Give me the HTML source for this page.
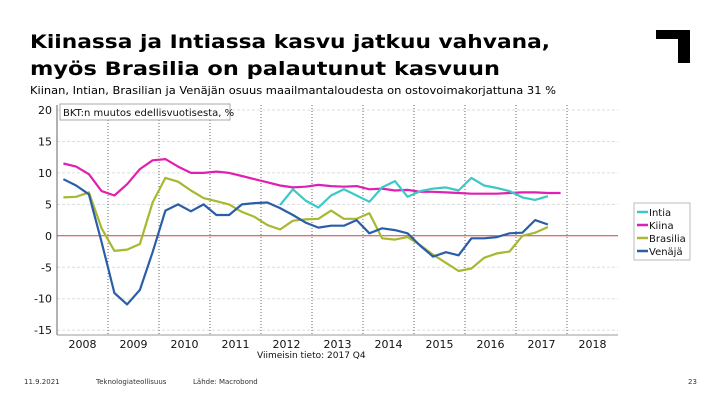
<!DOCTYPE html>
<html><head><meta charset="utf-8"><style>
body{margin:0;background:#fff;}
svg{display:block;font-family:"DejaVu Sans","Liberation Sans",sans-serif;}
</style></head><body>
<svg id="c" width="720" height="405" viewBox="0 0 720 405" xmlns="http://www.w3.org/2000/svg">
<text x="30" y="48" font-size="19" font-weight="bold" textLength="520" lengthAdjust="spacingAndGlyphs">Kiinassa ja Intiassa kasvu jatkuu vahvana,</text>
<text x="30" y="75" font-size="19" font-weight="bold" textLength="470" lengthAdjust="spacingAndGlyphs">myös Brasilia on palautunut kasvuun</text>
<text x="30" y="94" font-size="11" textLength="526" lengthAdjust="spacingAndGlyphs">Kiinan, Intian, Brasilian ja Venäjän osuus maailmantaloudesta on ostovoimakorjattuna 31 %</text>
<g><rect x="656" y="30" width="34" height="9" fill="#000"/><rect x="678" y="30" width="12" height="33" fill="#000"/></g>
<g id="plot"></g>
<g font-size="7" fill="#333">
<text x="24" y="384">11.9.2021</text>
<text x="96" y="384">Teknologiateollisuus</text>
<text x="193" y="384">Lähde: Macrobond</text>
<text x="688" y="384">23</text>
</g>
</svg>
<script>
const yTicks=[20,15,10,5,0,-5,-10,-15];
const years=[2008,2009,2010,2011,2012,2013,2014,2015,2016,2017,2018];
const china=[11.5,11.0,9.8,7.1, 6.4,8.2,10.6,12.0, 12.2,11.0,10.0,10.0, 10.2,10.0,9.5,9.0, 8.5,8.0,7.7,7.8, 8.1,7.9,7.8,7.9, 7.4,7.5,7.2,7.3, 7.0,7.0,6.9,6.8, 6.7,6.7,6.7,6.8, 6.9,6.9,6.8,6.8];
const russia=[9.0,8.0,6.6,-1.0, -9.1,-10.9,-8.6,-2.6, 4.0,5.0,3.9,5.0, 3.3,3.3,5.0,5.2, 5.3,4.4,3.3,2.1, 1.3,1.6,1.6,2.5, 0.4,1.2,0.9,0.4, -1.6,-3.3,-2.6,-3.1, -0.4,-0.4,-0.2,0.4, 0.5,2.5,1.8];
const brazil=[6.1,6.2,6.9,1.2, -2.4,-2.2,-1.3,5.3, 9.2,8.6,7.2,6.0, 5.5,5.0,3.8,3.0, 1.7,1.0,2.4,2.6, 2.7,4.0,2.7,2.7, 3.6,-0.4,-0.6,-0.2, -1.5,-3.0,-4.3,-5.6, -5.2,-3.5,-2.8,-2.5, 0.0,0.5,1.4];
const india=[null,4.9,7.4,5.6, 4.5,6.4,7.4,6.4, 5.4,7.7,8.7,6.2, 7.1,7.5,7.7,7.2, 9.2,8.0,7.6,7.1, 6.1,5.7,6.3];
const indiaStart=2012;
const seriesNames=["Intia","Kiina","Brasilia","Venäjä"];
const colors=["#3cc8c8","#e020b0","#a8b830","#2a5ea8"];
const NS="http://www.w3.org/2000/svg";
const g=document.getElementById('plot');
const L=57,R=618,T=105,B=335;
const xs=t=>L+(t-2008)*51;
const ys=v=>235.8-v*6.29;
function mk(tag,a,parent){const e=document.createElementNS(NS,tag);for(const k in a)e.setAttribute(k,a[k]);(parent||g).appendChild(e);return e;}
mk('rect',{x:L,y:T,width:R-L,height:B-T,fill:'#fff'});
yTicks.forEach(v=>{
 if(v!==0){const ln=mk('line',{x1:L,x2:R,y1:ys(v),y2:ys(v),stroke:'#ddd','stroke-width':1,'stroke-dasharray':'3,2'});
 }
 const t=mk('text',{x:52,y:ys(v)+4,'font-size':11,'text-anchor':'end',fill:'#111'});t.textContent=v;
 
});
years.forEach(y=>{
 if(y>2008){const ln=mk('line',{x1:xs(y),x2:xs(y),y1:T,y2:B,stroke:'#666','stroke-width':1,'stroke-dasharray':'1,2'});
 }
 const t=mk('text',{x:xs(y+0.5),y:348,'font-size':11,'text-anchor':'middle',fill:'#111'});t.textContent=y;
 
});
const ax=mk('line',{x1:L,x2:L,y1:T,y2:B,stroke:'#666'});
const bx=mk('line',{x1:L,x2:R,y1:B,y2:B,stroke:'#999'});
const z=mk('line',{x1:L,x2:R,y1:ys(0),y2:ys(0),stroke:'#d04040','stroke-width':1});
const lb=mk('rect',{x:60,y:104,width:170,height:16,fill:'#fff',stroke:'#aaa'});
const lt=mk('text',{x:63,y:116,'font-size':10,fill:'#111'});lt.textContent='BKT:n muutos edellisvuotisesta, %';

const nt=mk('text',{x:257,y:358,'font-size':9,fill:'#111'});nt.textContent='Viimeisin tieto: 2017 Q4';

function line(data,start,col,name){
 let d='';data.forEach((v,i)=>{if(v===null)return;const t=start+(i+0.5)/4;d+=(d?'L':'M')+xs(t).toFixed(1)+','+ys(v).toFixed(1);});
 const p=mk('path',{d:d,fill:'none',stroke:col,'stroke-width':2.2,'stroke-linejoin':'round'});
 
}
line(china,2008,colors[1],'series-kiina');
line(brazil,2008,colors[2],'series-brasilia');
line(russia,2008,colors[3],'series-venaja');
line(india,indiaStart,colors[0],'series-intia');
const lg=mk('rect',{x:634,y:203,width:56,height:57,fill:'#fff',stroke:'#bbb'});
seriesNames.forEach((n,i)=>{
 const y=212+i*13;
 const s=mk('line',{x1:637,x2:648,y1:y,y2:y,stroke:colors[i],'stroke-width':2.5});
 const t=mk('text',{x:649,y:y+4,'font-size':10,fill:'#111'});t.textContent=n;
});
</script>
</body></html>
